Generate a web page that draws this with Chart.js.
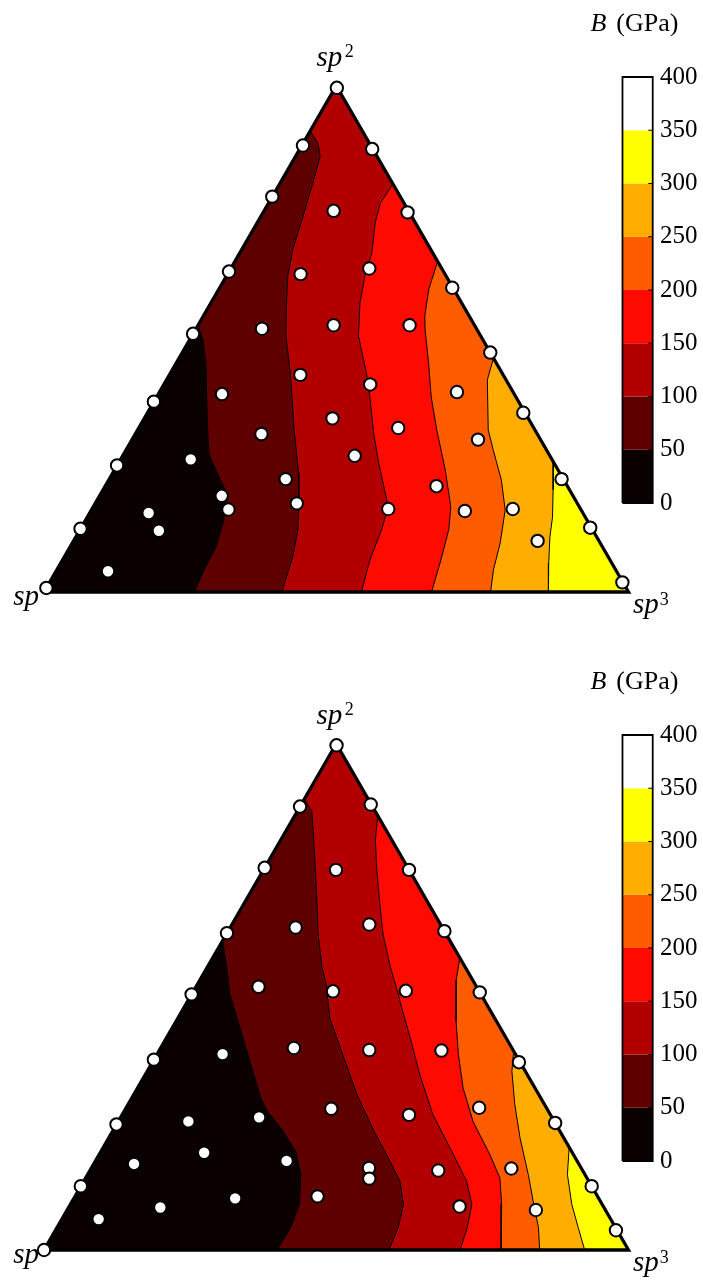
<!DOCTYPE html>
<html>
<head>
<meta charset="utf-8">
<title>B (GPa)</title>
<script src="https://cdn.jsdelivr.net/npm/chart.js@4.4.1/dist/chart.umd.min.js"></script>
<style>
  html, body { margin: 0; padding: 0; background: #fff; overflow: hidden; }
  .plot { position: relative; width: 703px; height: 626px; }
  .plot + .plot { margin-top: 32px; }
</style>
</head>
<body>
<div class="plot"><canvas id="upper"></canvas></div>
<div class="plot"><canvas id="lower"></canvas></div>
<script>
// contour levels of B (GPa) and the colour of each band
const levels = [0, 50, 100, 150, 200, 250, 300, 350, 400];
const bandColors = ['#0a0000', '#5e0000', '#b20000', '#ff0a00', '#ff5c00', '#ffad00', '#ffff00', '#ffffff'];

// sampled compositions as [sp2 %, sp3 %], sp makes up the rest
const upperSamples = [
  [99.6, 0.3], [88.2, 0.2], [87.5, 12.4], [78.1, 0], [75.3, 11.9], [75.0, 24.7],
  [63.3, 0], [62.8, 12.5], [63.9, 23.7], [60.1, 39.8], [51.0, 0], [52.0, 11.3],
  [52.7, 23.2], [52.7, 36.2], [47.3, 52.7], [42.9, 22.4], [41.0, 35.3], [37.6, 0],
  [39.1, 10.9], [39.5, 50.9], [34.3, 32.2], [32.4, 44.4], [35.4, 64.3], [31.2, 21.6],
  [30.1, 59.2], [26.9, 39.7], [25.0, 0], [26.2, 12.0], [22.3, 30.2], [20.9, 56.7],
  [22.3, 77.4], [19.0, 20.9], [16.3, 23.4], [17.5, 34.5], [15.6, 10.1], [16.4, 50.7],
  [16.0, 64.0], [16.4, 72.0], [12.1, 13.6], [12.5, 0], [10.1, 79.4], [12.7, 87.1],
  [4.1, 8.9], [0.8, 0], [1.9, 98.0]
];
const lowerSamples = [
  [99.7, 0.2], [87.6, 0], [88.0, 11.9], [75.5, 0], [75.1, 12.4], [75.1, 24.9],
  [62.6, 0], [63.7, 11.2], [64.3, 23.5], [63.0, 37.0], [52.0, 10.7], [51.1, 23.9],
  [51.2, 36.3], [50.9, 49.1], [50.5, 0], [39.9, 22.8], [37.6, 0], [38.7, 11.2],
  [39.5, 35.9], [39.4, 48.3], [37.1, 62.7], [27.9, 35.2], [26.7, 49.1], [28.1, 60.4],
  [25.1, 74.9], [24.8, 0], [25.4, 12.0], [26.2, 23.7], [19.2, 17.8], [17.0, 6.9],
  [17.6, 32.7], [16.2, 47.5], [14.1, 48.6], [15.7, 59.6], [16.1, 71.9], [12.6, 0],
  [12.6, 87.4], [10.2, 27.6], [8.4, 15.7], [10.6, 41.5], [8.6, 66.8], [7.9, 80.2],
  [6.1, 6.3], [0, 0], [3.9, 95.9]
];

// iso-B lines [sp2 %, sp3 %], from the side they start on down to the sp-sp3 edge
const upper50 = [[52.7, 0], [49.8, 2.3], [45.2, 5.1], [37.9, 8.9], [32.0, 12.0], [27.1, 14.7], [23.5, 17.9], [19.6, 21.4], [14.8, 23.5], [8.9, 25.0], [4.4, 25.2], [0, 25.7]];
const upper100 = [[91.1, 0], [88.7, 2.5], [86.1, 4.2], [80.8, 5.6], [74.3, 7.2], [67.8, 8.7], [62.4, 10.5], [55.9, 13.5], [50.6, 16.1], [41.9, 21.3], [32.0, 26.8], [23.5, 31.8], [17.6, 34.8], [12.3, 37.3], [6.9, 39.1], [0, 40.7]];
const upper150 = [[80.6, 19.4], [76.9, 19.1], [72.9, 20.2], [67.0, 22.6], [62.4, 23.7], [57.1, 25.5], [50.6, 28.5], [47.8, 30.4], [43.3, 33.5], [38.5, 36.5], [31.4, 40.7], [25.5, 44.5], [16.8, 50.5], [12.3, 51.6], [6.3, 52.6], [0, 54.3]];
const upper200 = [[65.3, 34.7], [59.9, 35.9], [54.5, 37.9], [51.8, 39.3], [45.2, 43.2], [38.5, 47.0], [32.0, 51.2], [24.1, 56.6], [16.8, 61.2], [12.3, 63.1], [5.7, 64.9], [0, 66.3]];
const upper250 = [[46.2, 53.8], [41.9, 54.9], [32.0, 60.0], [28.1, 62.8], [22.1, 67.2], [16.2, 70.8], [9.7, 73.2], [4.4, 74.7], [0, 76.4]];
const upper300 = [[25.7, 74.3], [20.2, 77.0], [14.8, 79.6], [10.9, 81.1], [5.7, 83.5], [0, 86.3]];

const lower50 = [[61.1, 0], [55.9, 3.3], [50.6, 6.5], [43.2, 12.1], [36.6, 17.1], [30.0, 22.1], [27.4, 24.5], [24.1, 28.5], [19.5, 33.3], [14.9, 36.5], [9.0, 39.2], [4.4, 40.0], [0, 39.9]];
const lower100 = [[89.1, 0], [86.8, 2.4], [82.2, 5.0], [75.6, 8.6], [69.0, 12.2], [62.4, 15.7], [55.9, 19.6], [52.4, 22.1], [45.8, 26.0], [38.5, 31.9], [30.7, 38.2], [23.5, 44.7], [18.2, 49.8], [13.6, 54.1], [9.0, 57.0], [4.4, 58.4], [0, 59.0]];
const lower150 = [[85.8, 14.2], [81.0, 16.2], [75.6, 19.1], [69.0, 22.9], [62.4, 26.8], [55.9, 31.3], [51.4, 34.7], [47.8, 37.3], [41.9, 41.7], [34.6, 47.0], [26.7, 53.2], [19.5, 60.0], [13.6, 65.5], [9.0, 68.7], [4.4, 70.2], [0, 71.2]];
const lower200 = [[57.7, 42.3], [53.2, 43.9], [45.2, 47.9], [38.6, 51.6], [32.0, 55.7], [25.4, 60.7], [18.8, 66.9], [14.2, 70.9], [9.0, 73.8], [0, 78.2]];
const lower250 = [[39.3, 60.7], [35.3, 62.4], [28.7, 66.2], [22.1, 70.4], [14.9, 75.4], [9.6, 78.9], [4.4, 82.4], [0, 84.8]];
const lower300 = [[20.3, 79.7], [14.9, 82.1], [9.0, 85.8], [4.4, 89.2], [0, 92.5]];

// ternary -> cartesian, unit side length, sp at the origin
const H = Math.sqrt(3) / 2;
const toXY = ([sp2, sp3]) => ({ x: (sp3 + sp2 / 2) / 100, y: sp2 / 100 * H });

// colour bar position along x (same units as the triangle)
const barLeft = 0.9897;
const barRight = 1.0414;

const serif = "'Liberation Serif', 'DejaVu Serif', serif";

// everything above a level: the line, then round the sp3 corner (and sp2 if needed)
function regionAbove(line) {
  const pts = line.map(toXY);
  pts.push(toXY([0, 100]));
  if (line[0][1] === 0) pts.push(toXY([100, 0]));
  pts.push(pts[0]);
  return pts;
}

function barRect(lo, hi) {
  return [
    { x: barLeft, y: lo }, { x: barRight, y: lo },
    { x: barRight, y: hi }, { x: barLeft, y: hi }, { x: barLeft, y: lo }
  ];
}

const layer = (data, extra) => Object.assign({
  data, showLine: true, pointRadius: 0, tension: 0, fill: false, borderWidth: 0
}, extra);

const cornerText = {
  id: 'cornerText',
  afterDraw(chart) {
    const { ctx, scales } = chart;
    const at = (c) => {
      const p = toXY(c);
      return [scales.x.getPixelForValue(p.x), scales.y.getPixelForValue(p.y)];
    };
    const [ax, ay] = at([100, 0]);
    const [lx, ly] = at([0, 0]);
    const [rx, ry] = at([0, 100]);
    const italic = 'italic 29px ' + serif;
    const small = '18px ' + serif;
    ctx.save();
    ctx.fillStyle = '#000';
    ctx.textBaseline = 'alphabetic';

    // sp2 over the top corner
    ctx.font = italic;
    ctx.textAlign = 'right';
    ctx.fillText('sp', ax + 6, ay - 20);
    ctx.font = small;
    ctx.textAlign = 'left';
    ctx.fillText('2', ax + 8.5, ay - 29);

    // sp on the left, sp3 on the right
    ctx.font = italic;
    ctx.textAlign = 'right';
    ctx.fillText('sp', lx - 5, ly + 13);
    ctx.textAlign = 'left';
    ctx.fillText('sp', rx + 4.5, ry + 21);
    const w = ctx.measureText('sp').width;
    ctx.font = small;
    ctx.fillText('3', rx + 5.5 + w, ry + 13);

    // colour bar title
    const top = scales.cb.getPixelForValue(400);
    const left = scales.x.getPixelForValue(barLeft) - 32;
    ctx.font = 'italic 26px ' + serif;
    ctx.fillText('B', left, top - 45.5);
    const wb = ctx.measureText('B').width;
    ctx.font = '26px ' + serif;
    ctx.fillText('(GPa)', left + wb + 10, top - 45.5);
    ctx.restore();
  }
};

function drawTernary(id, samples, lines) {
  const area = [toXY([0, 0]), toXY([0, 100]), toXY([100, 0]), toXY([0, 0])];
  const list = [];

  // filled bands, lowest level first
  list.push(layer(area, { backgroundColor: bandColors[0], fill: 'shape' }));
  lines.forEach((line, i) => list.push(layer(regionAbove(line), {
    backgroundColor: bandColors[i + 1], fill: 'shape', borderColor: '#000', borderWidth: 1
  })));

  // triangle frame
  list.push(layer(area, { borderColor: '#000', borderWidth: 3.3, borderJoinStyle: 'miter', clip: false }));

  // colour bar
  bandColors.forEach((c, i) => list.push(layer(barRect(levels[i], levels[i + 1]), {
    yAxisID: 'cb', backgroundColor: c, fill: 'shape', clip: false
  })));
  const ticks = [];
  levels.slice(1, -1).forEach(v => {
    ticks.push({ x: barRight - 0.0075, y: v }, { x: barRight, y: v }, { x: null, y: null });
  });
  list.push(layer(ticks, { yAxisID: 'cb', borderColor: '#000', borderWidth: 1, clip: false }));
  list.push(layer(barRect(levels[0], levels[levels.length - 1]), {
    yAxisID: 'cb', borderColor: '#000', borderWidth: 1.8, clip: false
  }));

  // sample markers
  list.push({
    data: samples.map(toXY), showLine: false, pointRadius: 6.2,
    pointBackgroundColor: '#fff', pointBorderColor: '#000', pointBorderWidth: 2, clip: false
  });

  list.forEach((ds, i) => { ds.order = list.length - i; });

  new Chart(document.getElementById(id), {
    type: 'scatter',
    data: { datasets: list },
    plugins: [cornerText],
    options: {
      responsive: true,
      maintainAspectRatio: false,
      animation: false,
      events: [],
      layout: { padding: 0, autoPadding: false },
      plugins: { legend: { display: false }, tooltip: { enabled: false } },
      scales: {
        x: { type: 'linear', display: false, min: -0.0753, max: 1.0419 },
        y: { type: 'linear', display: false, min: -0.0582, max: 1.0128 },
        cb: {
          type: 'linear', position: 'right', min: -115.5, max: 472.3,
          grid: { display: false, drawTicks: false },
          border: { display: false },
          ticks: { padding: 7, color: '#000', font: { family: serif, size: 25 } },
          afterBuildTicks(s) { s.ticks = levels.map(v => ({ value: v })); },
          afterFit(s) { s.width = 50; s.paddingTop = 0; s.paddingBottom = 0; }
        }
      }
    }
  });
}

drawTernary('upper', upperSamples, [upper50, upper100, upper150, upper200, upper250, upper300]);
drawTernary('lower', lowerSamples, [lower50, lower100, lower150, lower200, lower250, lower300]);
</script>
</body>
</html>
